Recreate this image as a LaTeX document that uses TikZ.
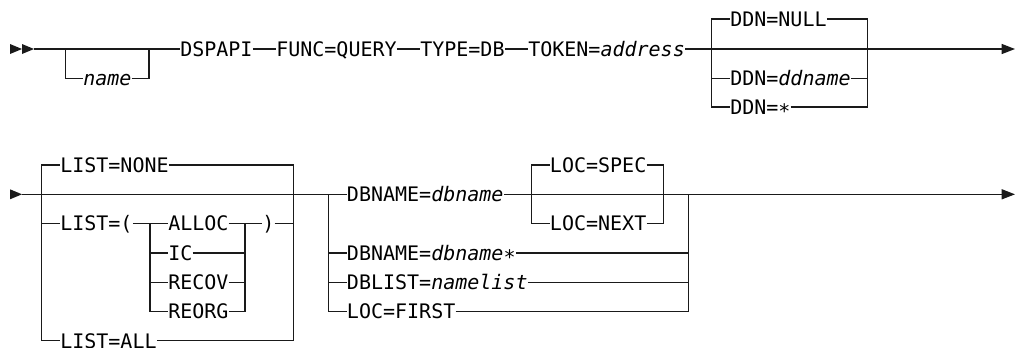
\documentclass[tikz,border=0pt]{standalone}
\usepackage{fontspec}
\usepackage{tikz}
\usetikzlibrary{arrows.meta}
\newfontfamily\rrfont{DejaVu Sans Mono}
\definecolor{RRink}{HTML}{1A1A1A}
\newcommand{\lowstar}{\raisebox{-0.35ex}{*}}
\tikzset{
  synkw/.style={anchor=west, inner sep=0pt, font=\rrfont\fontsize{15pt}{18pt}\selectfont, text=black, text height=10.9pt, text depth=0pt},
  synline/.style={draw=RRink, line width=1pt},
  synarr/.style={synline, -{Triangle[length=10pt, width=7.5pt]}},
  syntip/.style={fill=RRink}
}
\begin{document}
\begin{tikzpicture}[x=0.75pt, y=-0.75pt]
  \useasboundingbox (0,0) rectangle (1017,347);
  % first line
  \fill[syntip] (10,44) -- (22,49) -- (10,54) -- cycle; \fill[syntip] (22,44) -- (34,49) -- (22,54) -- cycle;
  \coordinate (s1) at (34,49);
  \coordinate (nameL) at (65.7,49); \coordinate (nameR) at (149,49);
  \coordinate (ddnL) at (711.7,49); \coordinate (ddnR) at (867.5,49);
  \coordinate (e1) at (1015,49);
  \node[synkw] (name) at (83,78.5) {\itshape name};
  \node[synkw] (dspapi) at (180,49) {DSPAPI};
  \node[synkw] (func) at (276,49) {FUNC=QUERY};
  \node[synkw] (type) at (420,49) {TYPE=DB};
  \node[synkw] (token) at (528,49) {TOKEN=\textit{address}};
  \node[synkw] (ddnnull) at (730,19) {DDN=NULL};
  \node[synkw] (ddnname) at (730,78.5) {DDN=\textit{ddname}};
  \node[synkw] (ddnstar) at (730,107) {DDN=\lowstar};
  \draw[synline] (s1) -- (dspapi); \draw[synline] (nameL) |- (name); \draw[synline] (name) -| (nameR);
  \draw[synline] (dspapi) -- (func); \draw[synline] (func) -- (type); \draw[synline] (type) -- (token);
  \draw[synarr] (token) -- (e1);
  \draw[synline] (ddnL) |- (ddnnull); \draw[synline] (ddnnull) -| (ddnR);
  \draw[synline] (ddnL) |- (ddnname); \draw[synline] (ddnname) -| (ddnR);
  \draw[synline] (ddnL) |- (ddnstar); \draw[synline] (ddnstar) -| (ddnR);
  % second line
  \fill[syntip] (10,189.3) -- (22,194.3) -- (10,199.3) -- cycle;
  \coordinate (s2) at (21.7,194.3);
  \coordinate (listL) at (41.7,194.3); \coordinate (listR) at (293.3,194.3);
  \coordinate (allocL) at (150,223.7); \coordinate (allocR) at (245,223.7);
  \coordinate (dbL) at (328.3,194.3); \coordinate (dbR) at (688.3,194.3);
  \coordinate (locL) at (531.7,194.3); \coordinate (locR) at (663.5,194.3);
  \coordinate (e2) at (1015,194.3);
  \node[synkw] (listnone) at (60,165) {LIST=NONE};
  \node[synkw] (listopen) at (60,223.7) {LIST=(};
  \node[synkw] (listall) at (60,340.8) {LIST=ALL};
  \node[synkw] (alloc) at (168,223.7) {ALLOC};
  \node[synkw] (ic) at (168,253) {IC};
  \node[synkw] (recov) at (168,282.3) {RECOV};
  \node[synkw] (reorg) at (168,311.6) {REORG};
  \node[synkw] (close) at (262,223.7) {)};
  \node[synkw] (dbname) at (346.7,194.3) {DBNAME=\textit{dbname}};
  \node[synkw] (dbstar) at (346.7,253) {DBNAME=\textit{dbname\lowstar}};
  \node[synkw] (dblist) at (346.7,282.3) {DBLIST=\textit{namelist}};
  \node[synkw] (locfirst) at (346.7,311.6) {LOC=FIRST};
  \node[synkw] (locspec) at (549.7,165) {LOC=SPEC};
  \node[synkw] (locnext) at (549.7,223.7) {LOC=NEXT};
  \draw[synline] (s2) -- (dbname);
  \draw[synline] (listL) |- (listnone); \draw[synline] (listnone) -| (listR);
  \draw[synline] (listL) |- (listopen); \draw[synline] (listopen) -- (alloc); \draw[synline] (alloc) -- (close); \draw[synline] (close) -| (listR);
  \draw[synline] (listL) |- (listall); \draw[synline] (listall) -| (listR);
  \draw[synline] (allocL) |- (ic); \draw[synline] (ic) -| (allocR);
  \draw[synline] (allocL) |- (recov); \draw[synline] (recov) -| (allocR);
  \draw[synline] (allocL) |- (reorg); \draw[synline] (reorg) -| (allocR);
  \draw[synline] (dbname) -- (dbR);
  \draw[synline] (locL) |- (locspec); \draw[synline] (locspec) -| (locR);
  \draw[synline] (locL) |- (locnext); \draw[synline] (locnext) -| (locR);
  \draw[synline] (dbL) |- (dbstar); \draw[synline] (dbstar) -| (dbR);
  \draw[synline] (dbL) |- (dblist); \draw[synline] (dblist) -| (dbR);
  \draw[synline] (dbL) |- (locfirst); \draw[synline] (locfirst) -| (dbR);
  \draw[synarr] (dbR) -- (e2);
\end{tikzpicture}
\end{document}
